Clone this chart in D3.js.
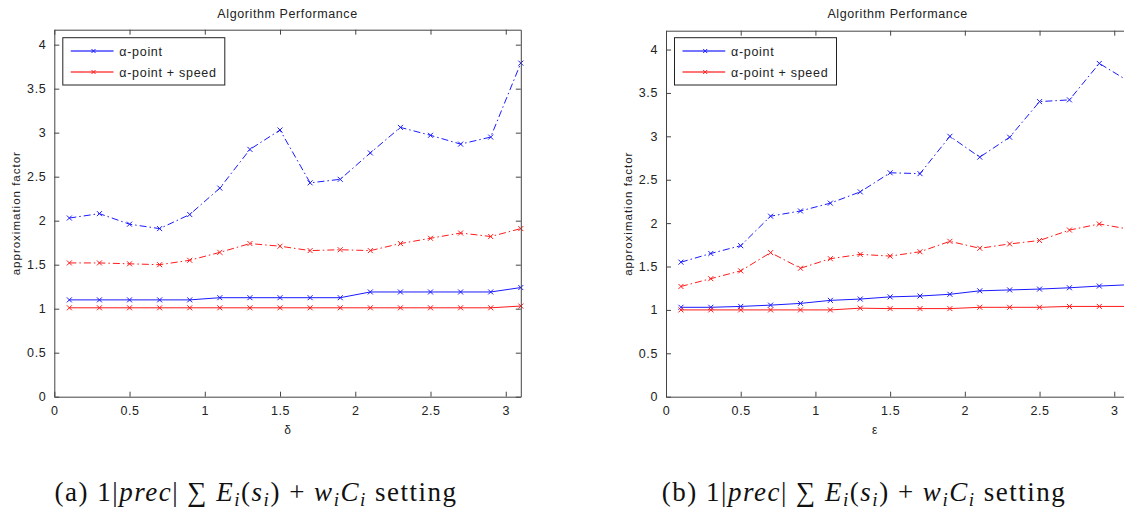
<!DOCTYPE html>
<html><head><meta charset="utf-8">
<script src="https://cdn.jsdelivr.net/npm/d3@7"></script>
<style>body{margin:0;background:#fff;} svg{display:block;}</style>
</head><body><svg id="c" width="1124" height="510"></svg>
<script>
// ---- data ----
const xValues = [0.1,0.3,0.5,0.7,0.9,1.1,1.3,1.5,1.7,1.9,2.1,2.3,2.5,2.7,2.9,3.1];
const xTicks = [0,0.5,1,1.5,2,2.5,3];
const yTicks = [0,0.5,1,1.5,2,2.5,3,3.5,4];
const seriesNames = ["\u03b1-point", "\u03b1-point + speed"];
const chartTitle = "Algorithm Performance";
const yLabel = "approximation factor";
// panel (a)
const aAlphaMax = [2.03,2.08,1.96,1.91,2.07,2.37,2.81,3.03,2.43,2.47,2.77,3.06,2.97,2.87,2.95,3.79];
const aSpeedMax = [1.52,1.52,1.51,1.50,1.55,1.64,1.74,1.71,1.66,1.67,1.66,1.74,1.80,1.86,1.82,1.91];
const aAlphaAvg = [1.10,1.10,1.10,1.10,1.10,1.125,1.125,1.125,1.125,1.125,1.19,1.19,1.19,1.19,1.19,1.24];
const aSpeedAvg = [1.01,1.01,1.01,1.01,1.01,1.01,1.01,1.01,1.01,1.01,1.01,1.01,1.01,1.01,1.01,1.03];
// panel (b)
const bAlphaMax = [1.55,1.65,1.74,2.08,2.14,2.23,2.36,2.58,2.57,3.00,2.76,2.99,3.40,3.42,3.84,3.63];
const bSpeedMax = [1.27,1.36,1.45,1.66,1.48,1.59,1.64,1.62,1.67,1.79,1.71,1.76,1.80,1.92,1.99,1.93];
const bAlphaAvg = [1.03,1.03,1.04,1.055,1.075,1.11,1.125,1.15,1.16,1.18,1.22,1.23,1.24,1.255,1.275,1.29];
const bSpeedAvg = [1.0,1.0,1.0,1.0,1.0,1.0,1.02,1.015,1.015,1.015,1.03,1.03,1.03,1.04,1.04,1.04];

const BLUE = "#1a1aff", RED = "#ff1a1a";
const svg = d3.select("#c");
const sansFont = "'Liberation Sans', Arial, sans-serif";

const panels = [
  { xLabel: "\u03b4", letter: "a", x0: 54.3, x1: 520.8, yTop: 29.7, yMax: 4.17,
    series: [
      {v: aAlphaMax, c: BLUE, dash: true}, {v: aSpeedMax, c: RED, dash: true},
      {v: aAlphaAvg, c: BLUE, dash: false}, {v: aSpeedAvg, c: RED, dash: false}],
    captionX: 256 },
  { xLabel: "\u03b5", letter: "b", x0: 666, x1: 1129.2, yTop: 30.7, yMax: 4.217,
    series: [
      {v: bAlphaMax, c: BLUE, dash: true}, {v: bSpeedMax, c: RED, dash: true},
      {v: bAlphaAvg, c: BLUE, dash: false}, {v: bSpeedAvg, c: RED, dash: false}],
    captionX: 864 }
];
const yBottom = 396.7;

panels.forEach(p => {
  const x = d3.scaleLinear().domain([0, 3.1]).range([p.x0, p.x1]);
  const y = d3.scaleLinear().domain([0, p.yMax]).range([yBottom, p.yTop]);
  const g = svg.append("g");

  // series
  const line = d3.line().x((d, i) => x(xValues[i])).y(d => y(d));
  p.series.forEach(s => {
    g.append("path").datum(s.v).attr("d", line)
      .attr("fill", "none").attr("stroke", s.c).attr("stroke-width", 1)
      .attr("stroke-dasharray", s.dash ? "7,3,1.5,3" : null);
    g.selectAll(null).data(s.v).enter().append("path")
      .attr("d", (d, i) => {
        const cx = x(xValues[i]), cy = y(d), r = 2.5;
        return `M${cx-r},${cy-r}L${cx+r},${cy+r}M${cx-r},${cy+r}L${cx+r},${cy-r}`;
      })
      .attr("stroke", s.c).attr("stroke-width", 1).attr("fill", "none");
  });

  // axes (box with inward ticks)
  const axCol = "#444";
  const xb = d3.axisBottom(x).tickValues(xTicks).tickSizeInner(-5).tickSizeOuter(0).tickPadding(9).tickFormat(d3.format("~g"));
  const xt = d3.axisTop(x).tickValues(xTicks).tickSizeInner(-5).tickSizeOuter(0).tickFormat("");
  const yl = d3.axisLeft(y).tickValues(yTicks).tickSizeInner(-5).tickSizeOuter(0).tickPadding(8).tickFormat(d3.format("~g"));
  const yr = d3.axisRight(y).tickValues(yTicks).tickSizeInner(-5).tickSizeOuter(0).tickFormat("");
  const gb = g.append("g").attr("transform", `translate(0,${yBottom})`).call(xb);
  const gt = g.append("g").attr("transform", `translate(0,${p.yTop})`).call(xt);
  const gl = g.append("g").attr("transform", `translate(${p.x0},0)`).call(yl);
  const gr = g.append("g").attr("transform", `translate(${p.x1},0)`).call(yr);
  [gb, gt, gl, gr].forEach(a => {
    a.select(".domain").attr("stroke", axCol);
    a.selectAll(".tick line").attr("stroke", axCol);
    a.selectAll("text").attr("fill", "#222").style("font-family", sansFont)
      .style("font-size", "12.5px").style("letter-spacing", "0.6px");
  });

  // title
  g.append("text").attr("x", (p.x0 + p.x1) / 2).attr("y", 18).attr("text-anchor", "middle")
    .style("font-family", sansFont).style("font-size", "12.5px").style("letter-spacing", "0.6px")
    .attr("fill", "#222").text(chartTitle);
  // x label
  g.append("text").attr("x", (p.x0 + p.x1) / 2 - (p.letter === "b" ? 23 : 0)).attr("y", 434).attr("text-anchor", "middle")
    .style("font-family", sansFont).style("font-size", "12px").attr("fill", "#222").text(p.xLabel);
  // y label
  g.append("text").attr("transform", `translate(${p.x0 - 34},${(yBottom + p.yTop) / 2}) rotate(-90)`)
    .attr("text-anchor", "middle")
    .style("font-family", sansFont).style("font-size", "11.5px").style("letter-spacing", "1px")
    .attr("fill", "#222").text(yLabel);

  // legend
  const lx = p.x0 + 8.5, ly = 37.7, lw = 162, lh = 47.3;
  const lg = g.append("g");
  lg.append("rect").attr("x", lx).attr("y", ly).attr("width", lw).attr("height", lh)
    .attr("fill", "#fff").attr("stroke", "#222").attr("stroke-width", 1);
  seriesNames.forEach((name, i) => {
    const yy = ly + 13.3 + i * 21;
    const c = i === 0 ? BLUE : RED;
    lg.append("line").attr("x1", lx + 8).attr("x2", lx + 50.7).attr("y1", yy).attr("y2", yy)
      .attr("stroke", c).attr("stroke-width", 1.3).attr("opacity", 0.8);
    const mx = lx + 30.7, r = 2;
    lg.append("path").attr("d", `M${mx-r},${yy-r}L${mx+r},${yy+r}M${mx-r},${yy+r}L${mx+r},${yy-r}`)
      .attr("stroke", c).attr("stroke-width", 1);
    lg.append("text").attr("x", lx + 56.5).attr("y", yy + 4.5)
      .style("font-family", sansFont).style("font-size", "12.5px").style("letter-spacing", "0.7px")
      .attr("fill", "#222").text(name);
  });

  // caption
  const cap = svg.append("text").attr("x", p.captionX).attr("y", 501).attr("text-anchor", "middle")
    .style("font-family", "'Liberation Serif', 'DejaVu Serif', serif").style("font-size", "27px")
    .style("letter-spacing", "1.5px").attr("fill", "#111");
  const parts = [
    ["(" + p.letter + ") 1|", false, false], ["prec", true, false], ["| \u2211 ", false, false],
    ["E", true, false], ["i", true, true], ["(", false, false], ["s", true, false], ["i", true, true],
    [") + ", false, false], ["w", true, false], ["i", true, true], ["C", true, false], ["i", true, true],
    [" setting", false, false]
  ];
  let sub = false;
  parts.forEach(([t, it, isSub]) => {
    const ts = cap.append("tspan").text(t).style("font-style", it ? "italic" : "normal");
    if (isSub && !sub) { ts.attr("dy", 5).style("font-size", "19px"); sub = true; }
    else if (isSub && sub) { ts.style("font-size", "19px"); }
    else if (!isSub && sub) { ts.attr("dy", -5); sub = false; }
  });
});
</script>
</body></html>
